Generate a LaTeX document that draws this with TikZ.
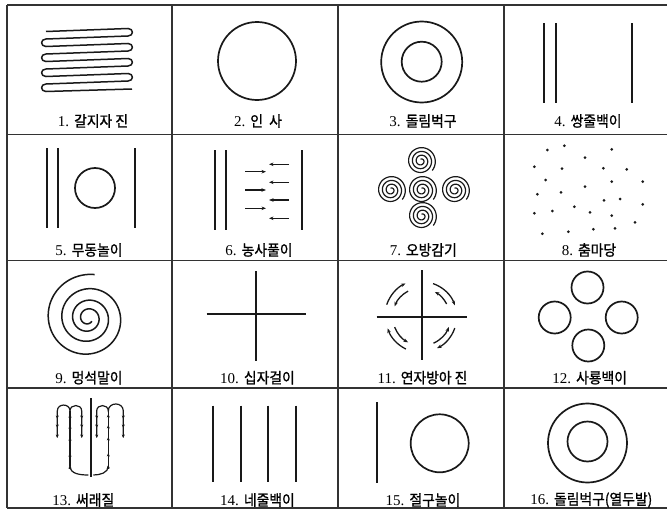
\documentclass[tikz,border=0pt]{standalone}
\usepackage{fontspec}
\setmainfont{Liberation Serif}
\newfontfamily\kr[FakeStretch=0.92,FakeBold=1.2]{Noto Sans CJK KR}
\usetikzlibrary{arrows.meta,calc}
\tikzset{
  grid/.style={draw=black!80, line width=1.3pt},
  shp/.style={draw=black!90, line width=1.7pt},
  thin/.style={draw=black!90, line width=1.2pt},
  arr/.style={draw=black!90, line width=1.3pt, -{Stealth[length=4.5pt,width=3.5pt]}},
  tip/.style={draw=black!90, line width=1.1pt, -{Stealth[length=3.5pt,width=3pt]}},
  lab/.style={inner sep=0pt, font=\fontsize{15}{17}\selectfont},
  dotm/.style={fill=black!90},
  spir/.pic={\draw[thin] plot[domain=0:3.4, samples=140, smooth] ({360*\x-1184}:{1.8+3.8*\x});}
}
\begin{document}
\begin{tikzpicture}[x=1pt,y=-1pt]
\useasboundingbox (0,0) rectangle (667,514);
\fill[white] (0,0) rectangle (667,514);
% grid
\foreach \yy in {5,134.5,260.5,388,508} \draw[grid] (7,\yy) -- (667,\yy);
\foreach \xx in {7,172,338,504} \draw[grid] (\xx,5) -- (\xx,508);

% 1 zigzag
\draw[shp, line width=1.5pt] (46,31.5) -- (128,28.5)
  to[out=0,in=0,looseness=2] (128,36) -- (46,39)
  to[out=180,in=180,looseness=2] (46,46.5) -- (128,43.5)
  to[out=0,in=0,looseness=2] (128,51) -- (46,54)
  to[out=180,in=180,looseness=2] (46,61.5) -- (128,58.5)
  to[out=0,in=0,looseness=2] (128,66) -- (46,69)
  to[out=180,in=180,looseness=2] (46,76.5) -- (128,73.5)
  to[out=0,in=0,looseness=2] (128,81) -- (46,84)
  to[out=180,in=180,looseness=2] (46,91.5) -- (132,89);
\node[lab] (l1) at (93,121) {1. {\kr 갈지자 진}};

% 2
\draw[shp] (257,61) circle (39);
\node[lab] (l2) at (258,121) {2. {\kr 인\ \ 사}};

% 3
\draw[shp] (421.7,62) circle (40.5);
\draw[shp] (421.7,61.7) circle (20);
\node[lab] (l3) at (423,121) {3. {\kr 돌림벅구}};

% 4
\foreach \xx in {544,556,632} \draw[shp] (\xx,23) -- (\xx,103);
\node[lab] (l4) at (588,121) {4. {\kr 쌍줄백이}};

% 5
\foreach \xx in {47,58,135} \draw[shp] (\xx,148) -- (\xx,228);
\draw[shp] (95,188) circle (20);
\node[lab] (l5) at (89,250) {5. {\kr 무동놀이}};

% 6
\foreach \xx in {215,226,302} \draw[shp] (\xx,150) -- (\xx,230);
\foreach \yy in {171.7,190,208.3} \draw[arr] (245,\yy) -- (266,\yy);
\foreach \yy in {164.3,182.3,200,218.3} \draw[arr] (289,\yy) -- (269,\yy);
\node[lab] (l6) at (259,250) {6. {\kr 농사풀이}};

% 7
\foreach \p in {(421,161),(391,190),(422,190),(455,190),(422,216)} \pic at \p {spir};
\node[lab] (l7) at (423.3,250) {7. {\kr 오방감기}};

% 8 dots
\foreach \p in {(547.3,150),(564.3,145.7),(611.7,149.3),(585,157.7),(534.3,166.7),(562,168.7),(603.3,168.3),(626.7,169.3),(545.7,180),(611.7,181.7),(642.7,181.7),(585,186.7),(561,192.3),(537.3,194.3),(604,200.3),(620,199),(642.7,204.3),(574.3,206.7),(552.3,211),(534.3,213.3),(590,212.3),(611.7,215.7),(635,222.3),(615,228.3),(593.3,229.3),(568.3,231.7),(542.3,233.7)}
  \fill[dotm] \p circle (1.5);
\node[lab] (l8) at (589,250) {8. {\kr 춤마당}};

% 9 spiral
\begin{scope}[shift={(88,318)}]
\draw[shp, line width=1.5pt] plot[domain=0:3.667, samples=300, smooth] ({-80-360*(3.667-\x)}:{5+5.5*\x+1.4*\x*\x});
\end{scope}
\node[lab] (l9) at (89,377.7) {9. {\kr 멍석말이}};

% 10
\draw[shp] (256,271) -- (256,361);
\draw[shp] (206.7,314.3) -- (306,314.3);
\node[lab] (l10) at (257.5,377.7) {10. {\kr 십자걸이}};

% 11
\coordinate (c11) at (421.7,316.7);
\draw[shp] (421.7,270) -- (421.7,360);
\draw[shp] (376.7,316.7) -- (466.7,316.7);
\foreach \r/\a/\b in {37/161/116, 29/118/159, 35/71/19, 28/27/62, 36/244/199, 29/201/242, 35/341/296, 29/294/339}
  \draw[arr] (c11) ++(-\a:\r) arc[start angle=-\a, end angle=-\b, radius=\r];
\node[lab] (l11) at (422.5,377.7) {11. {\kr 연자방아 진}};

% 12
\foreach \p in {(587.5,287.5),(554.7,317.5),(621.7,317.5),(588.3,345.5)} \draw[shp] \p circle (16);
\node[lab] (l12) at (589.7,377.7) {12. {\kr 사룡백이}};

% 13
\draw[shp] (90.7,398) -- (90.7,476.5);
\foreach \m/\l/\r in {70/57.3/81.7, 108.3/96.7/123.3}{
  \draw[thin] (\l,437) -- (\l,411) to[out=90,in=90,looseness=1.6] (\m,411)
    to[out=90,in=90,looseness=1.6] (\r,411) -- (\r,437);
  \draw[thin] (\m,411) -- (\m,466);
  \foreach \yy in {419,428,438} {
    \draw[tip] (\l,\yy-3) -- (\l,\yy);
    \draw[tip] (\r,\yy-3) -- (\r,\yy);
  }
  \foreach \yy in {414,425,437,453} \draw[tip] (\m,\yy+3) -- (\m,\yy);
}
\draw[thin] (88.3,475) to[out=180,in=-90] (70,466);
\draw[tip] (70,469) -- (70,465);
\draw[thin] (93.3,475) to[out=0,in=-90] (108.3,466);
\draw[tip] (108.3,469) -- (108.3,465);
\node[lab] (l13) at (83.3,500) {13. {\kr 써래질}};

% 14
\foreach \xx in {213.3,240.7,268.3,295.7} \draw[shp] (\xx,405.7) -- (\xx,482.3);
\node[lab] (l14) at (257.5,500) {14. {\kr 네줄백이}};

% 15
\draw[shp] (376.7,402.3) -- (376.7,483.3);
\draw[shp] (439.7,443.3) circle (29);
\node[lab] (l15) at (423,500) {15. {\kr 절구놀이}};

% 16
\draw[shp] (587.5,443) circle (39.5);
\draw[shp] (587.5,441.5) circle (20);
\node[lab] (l16) at (591.3,500) {16. {\kr 돌림벅구(열두발)}};
\end{tikzpicture}
\end{document}
